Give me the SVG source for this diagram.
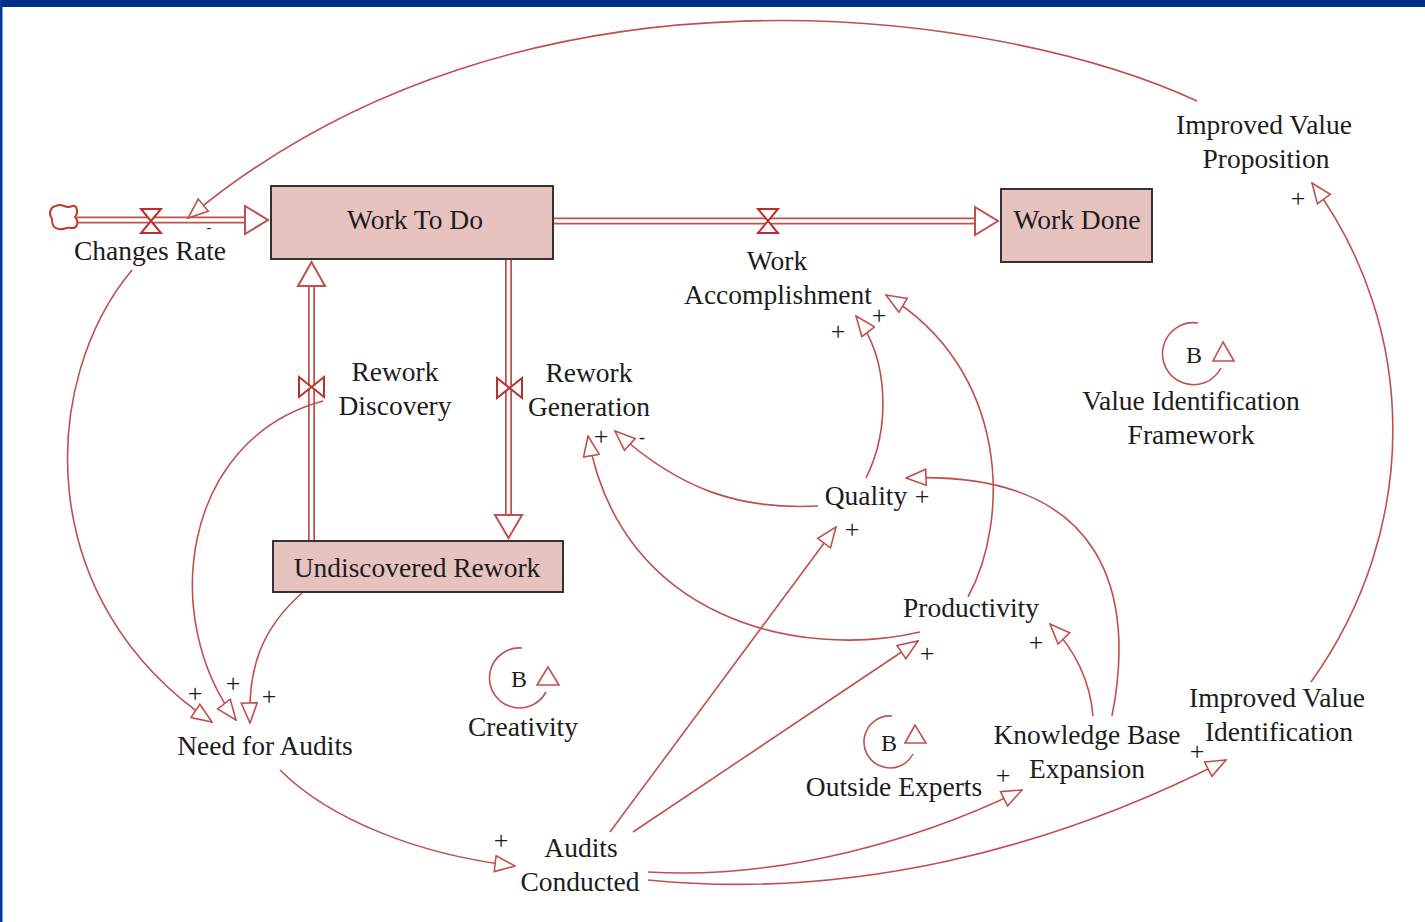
<svg xmlns="http://www.w3.org/2000/svg" width="1425" height="922" viewBox="0 0 1425 922" font-family="'Liberation Serif', 'DejaVu Serif', serif">
<style>
text{font-family:"Liberation Serif","DejaVu Serif",serif;fill:#1c1c1c}
.lbl{font-size:27.5px;text-anchor:middle}
.sgn{font-size:26px;text-anchor:middle}
.b{font-size:24px;text-anchor:middle}
.stock{fill:#e6c3bf;stroke:#333;stroke-width:2}
.pipeo{fill:none;stroke:#c0504d;stroke-width:7}
.pipei{fill:none;stroke:#fff;stroke-width:3.5}
.valve{fill:#fff;stroke:#b8312a;stroke-width:2}
.phead{fill:#fff;stroke:#c0504d;stroke-width:2}
.link{fill:none;stroke:#c0504d;stroke-width:1.6}
.loop{fill:none;stroke:#c0504d;stroke-width:1.6}
.tri{fill:#fff;stroke:#c0504d;stroke-width:1.6}
</style>
<defs>
<marker id="ah" viewBox="0 0 22 18" refX="21" refY="9" markerWidth="22" markerHeight="18" markerUnits="userSpaceOnUse" orient="auto">
<path d="M1,1 L21,9 L1,17 Z" fill="#fff" stroke="#c0504d" stroke-width="1.6"/>
</marker>
</defs>
<rect x="0" y="0" width="1425" height="922" fill="#fff"/>
<rect x="0" y="0" width="1425" height="7" fill="#002f87"/>
<rect x="0" y="0" width="2.5" height="922" fill="#0038a0"/>

<g id="connectors">
<path class="pipeo" d="M77,220 H246"/><path class="pipei" d="M77,220 H246"/>
<polygon class="phead" points="245,206 268,220 245,234"/>
<path class="pipeo" d="M553,221 H976"/><path class="pipei" d="M553,221 H976"/>
<polygon class="phead" points="975,207 998,221 975,235"/>
<path class="pipeo" d="M311.5,541 V285"/><path class="pipei" d="M311.5,541 V285"/>
<polygon class="phead" points="298,286 311.5,262 325,286"/>
<path class="pipeo" d="M508.5,259 V516"/><path class="pipei" d="M508.5,259 V516"/>
<polygon class="phead" points="495,515 508.5,538 522,515"/>
<path class="link" marker-end="url(#ah)" d="M1197,101 C1000,10 520,-60 188,218"/>
<path class="link" marker-end="url(#ah)" d="M132,270 C40,380 30,600 212,722"/>
<path class="link" marker-end="url(#ah)" d="M323,401 C180,440 160,620 236,720"/>
<path class="link" marker-end="url(#ah)" d="M302,593 C260,630 248,670 250,723"/>
<path class="link" marker-end="url(#ah)" d="M280,770 C330,820 420,855 515,866"/>
<path class="link" marker-end="url(#ah)" d="M610,832 L836,527"/>
<path class="link" marker-end="url(#ah)" d="M633,832 L918,641"/>
<path class="link" marker-end="url(#ah)" d="M648,872 C780,880 920,840 1022,790"/>
<path class="link" marker-end="url(#ah)" d="M648,880 C850,900 1050,850 1226,760"/>
<path class="link" marker-end="url(#ah)" d="M1311,682 C1420,530 1420,330 1312,183"/>
<path class="link" marker-end="url(#ah)" d="M1112,716 C1135,600 1110,470 906,478"/>
<path class="link" marker-end="url(#ah)" d="M1093,716 C1090,680 1075,650 1050,624"/>
<path class="link" marker-end="url(#ah)" d="M968,597 C1010,520 1010,370 886,295"/>
<path class="link" marker-end="url(#ah)" d="M866,478 C890,430 890,360 856,316"/>
<path class="link" marker-end="url(#ah)" d="M818,506 C740,510 680,490 615,431"/>
<path class="link" marker-end="url(#ah)" d="M920,632 C800,660 620,620 588,436"/>
</g>

<g id="signs">
<text class="sgn" x="209" y="232" style="font-size:15px">-</text>
<text class="sgn" x="195" y="702">+</text>
<text class="sgn" x="233" y="692">+</text>
<text class="sgn" x="269" y="705">+</text>
<text class="sgn" x="501" y="849">+</text>
<text class="sgn" x="852" y="538">+</text>
<text class="sgn" x="922" y="505">+</text>
<text class="sgn" x="927" y="662">+</text>
<text class="sgn" x="1036" y="651">+</text>
<text class="sgn" x="838" y="340">+</text>
<text class="sgn" x="879" y="324">+</text>
<text class="sgn" x="601" y="445">+</text>
<text class="sgn" x="642" y="443" style="font-size:18px">-</text>
<text class="sgn" x="1003" y="784">+</text>
<text class="sgn" x="1197" y="760">+</text>
<text class="sgn" x="1298" y="207">+</text>
</g>

<g id="source-cloud">
<path d="M56,206 C62,202 66,210 72,206 C78,204 78,214 75,217 C79,221 78,229 71,228 C66,226 62,232 56,228 C50,226 54,220 51,217 C48,212 52,206 56,206 Z" fill="#fff" stroke="#c0392b" stroke-width="2"/>
</g>

<g id="changes-rate">
<path class="valve" d="M141,209 L161,209 L141,233 L161,233 Z"/>
<text class="lbl" x="150" y="260">Changes Rate</text>
</g>

<g id="work-to-do">
<rect class="stock" x="271" y="186" width="282" height="73"/>
<text class="lbl" x="415" y="229">Work To Do</text>
</g>

<g id="work-done">
<rect class="stock" x="1001" y="189" width="151" height="73"/>
<text class="lbl" x="1077" y="229">Work Done</text>
</g>

<g id="work-accomplishment">
<path class="valve" d="M758,209 L778,209 L758,233 L778,233 Z"/>
<text class="lbl" x="777" y="270">Work</text>
<text class="lbl" x="778" y="304">Accomplishment</text>
</g>

<g id="rework-discovery">
<path class="valve" d="M299,377 L299,397 L324,377 L324,397 Z"/>
<text class="lbl" x="395" y="381">Rework</text>
<text class="lbl" x="395" y="415">Discovery</text>
</g>

<g id="rework-generation">
<path class="valve" d="M497,378 L497,398 L522,378 L522,398 Z"/>
<text class="lbl" x="589" y="382">Rework</text>
<text class="lbl" x="589" y="416">Generation</text>
</g>

<g id="undiscovered-rework">
<rect class="stock" x="273" y="541" width="290" height="51"/>
<text class="lbl" x="417" y="577">Undiscovered Rework</text>
</g>

<g id="quality"><text class="lbl" x="866" y="505">Quality</text></g>
<g id="productivity"><text class="lbl" x="971" y="617">Productivity</text></g>
<g id="knowledge-base-expansion">
<text class="lbl" x="1087" y="744">Knowledge Base</text>
<text class="lbl" x="1087" y="778">Expansion</text>
</g>
<g id="improved-value-proposition">
<text class="lbl" x="1264" y="134">Improved Value</text>
<text class="lbl" x="1266" y="168">Proposition</text>
</g>
<g id="improved-value-identification">
<text class="lbl" x="1277" y="707">Improved Value</text>
<text class="lbl" x="1279" y="741">Identification</text>
</g>
<g id="need-for-audits"><text class="lbl" x="265" y="755">Need for Audits</text></g>
<g id="audits-conducted">
<text class="lbl" x="581" y="857">Audits</text>
<text class="lbl" x="580" y="891">Conducted</text>
</g>

<g id="loop-creativity">
<path class="loop" d="M522,648 A30,30 0 1 0 546,692"/>
<polygon class="tri" points="548,667 537,685 559,685"/>
<text class="b" x="519" y="687">B</text>
<text class="lbl" x="523" y="736">Creativity</text>
</g>
<g id="loop-value-identification">
<path class="loop" d="M1198,323 A31,31 0 1 0 1221,368"/>
<polygon class="tri" points="1223,342 1213,361 1234,361"/>
<text class="b" x="1194" y="363">B</text>
<text class="lbl" x="1191" y="410">Value Identification</text>
<text class="lbl" x="1191" y="444">Framework</text>
</g>
<g id="loop-outside-experts">
<path class="loop" d="M892,716 A26,26 0 1 0 913,754"/>
<polygon class="tri" points="915,725 905,743 926,743"/>
<text class="b" x="889" y="751">B</text>
<text class="lbl" x="894" y="796">Outside Experts</text>
</g>
</svg>
